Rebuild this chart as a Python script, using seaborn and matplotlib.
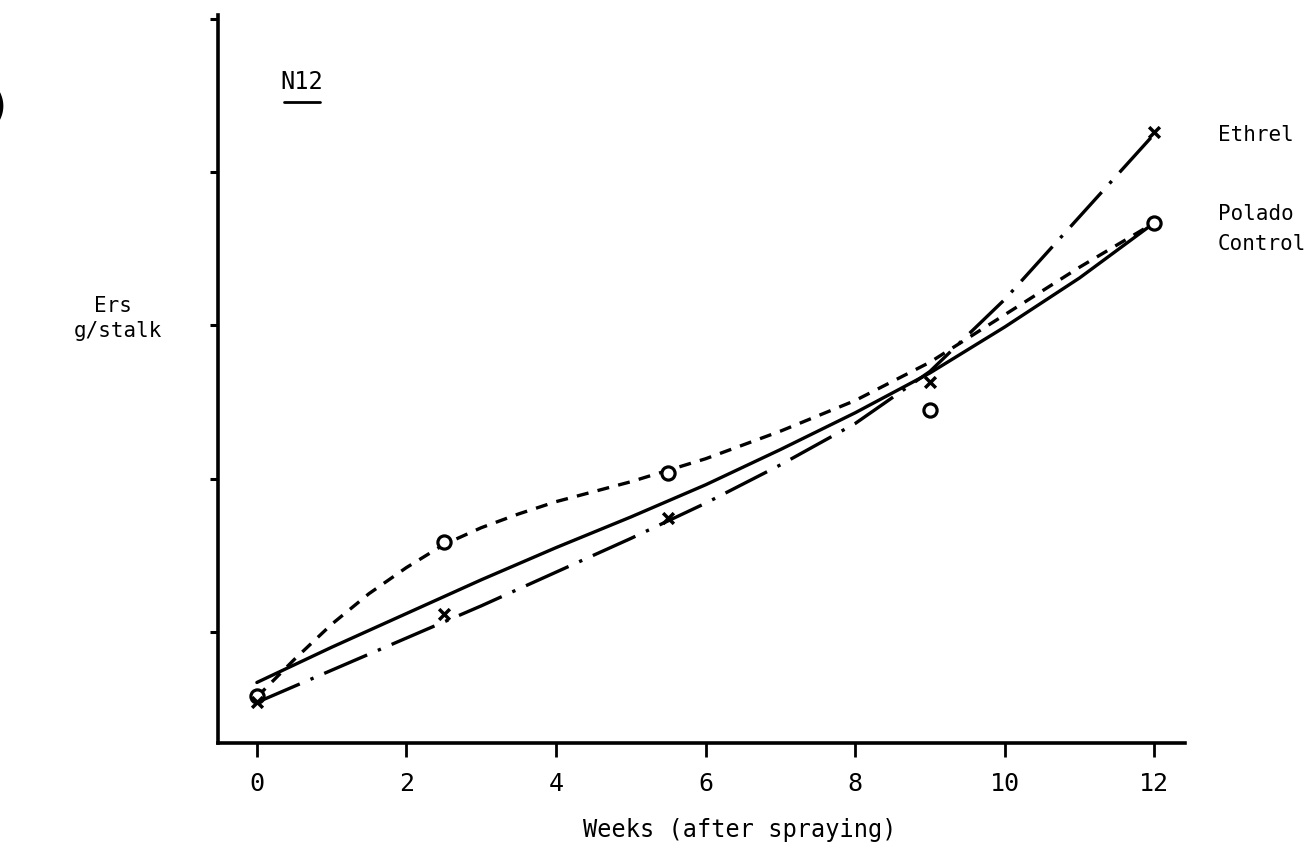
import matplotlib
matplotlib.use("Agg")
import matplotlib.pyplot as plt
import pandas as pd
import seaborn as sns
from matplotlib.lines import Line2D

# Fitted curves as drawn on the scan (weeks after spraying, value in y-tick units)
control_weeks = [0, 1, 2, 3, 4, 5, 6, 7, 8, 9, 10, 11, 12]
control_curve = [0.67, 0.90, 1.12, 1.34, 1.55, 1.75, 1.96, 2.19, 2.43, 2.69, 2.99, 3.31, 3.67]

polado_weeks = [0, 0.5, 1, 1.5, 2, 2.5, 3, 3.5, 4, 5, 6, 7, 8, 9, 10, 11, 12]
polado_curve = [0.575, 0.82, 1.05, 1.25, 1.42, 1.57, 1.68, 1.77, 1.85, 1.98, 2.13, 2.31, 2.51, 2.76, 3.07, 3.38, 3.67]

ethrel_weeks = [0, 1, 2, 3, 4, 5, 6, 7, 8, 9, 10, 11, 12]
ethrel_curve = [0.54, 0.75, 0.96, 1.17, 1.39, 1.61, 1.84, 2.09, 2.36, 2.70, 3.17, 3.71, 4.25]

# Observed points
sample_weeks = [0, 2.5, 5.5, 9, 12]
polado_obs = [0.58, 1.59, 2.04, 2.45, 3.67]
ethrel_obs = [0.54, 1.12, 1.745, 2.63, 4.26]

x_ticks = [0, 2, 4, 6, 8, 10, 12]
y_ticks = [1, 2, 3, 4, 5]

sns.set_style("ticks")
plt.rcParams["font.family"] = ["DejaVu Sans Mono"]
plt.rcParams["text.color"] = "black"

W, H = 1308, 861
fig = plt.figure(figsize=(W / 100, H / 100), dpi=100)
ax = fig.add_axes([218 / W, 1 - 743 / H, (1185 - 218) / W, (743 - 15) / H])

ink = "black"
lw = 2.4

df_c = pd.DataFrame({"week": control_weeks, "val": control_curve})
df_p = pd.DataFrame({"week": polado_weeks, "val": polado_curve})
df_e = pd.DataFrame({"week": ethrel_weeks, "val": ethrel_curve})

sns.lineplot(data=df_c, x="week", y="val", ax=ax, color=ink, lw=lw, sort=False)
sns.lineplot(data=df_p, x="week", y="val", ax=ax, color=ink, lw=lw, sort=False,
             linestyle=(0, (3.6, 2.8)))
sns.lineplot(data=df_e, x="week", y="val", ax=ax, color=ink, lw=lw, sort=False,
             linestyle=(0, (14, 3.5, 1, 3.5)))

obs = pd.DataFrame({"week": sample_weeks, "polado": polado_obs, "ethrel": ethrel_obs})
sns.scatterplot(data=obs, x="week", y="polado", ax=ax, marker="o", s=90,
                facecolor="white", edgecolor=ink, linewidth=2.3, zorder=5)
sns.scatterplot(data=obs, x="week", y="ethrel", ax=ax, marker="x", s=60,
                color=ink, linewidth=2.5, zorder=5)

ax.set_xlim(-0.52, 12.41)
ax.set_ylim(0.275, 5.026)
ax.set_xticks(x_ticks)
ax.set_xticklabels([str(t) for t in x_ticks])
ax.set_yticks(y_ticks)
ax.set_yticklabels([])
ax.tick_params(axis="x", direction="out", length=10, width=2, labelsize=18, pad=11,
               colors=ink)
ax.tick_params(axis="y", direction="out", length=6, width=2.2, colors=ink)
ax.set_xlabel("")
ax.set_ylabel("")
for side in ["left", "bottom"]:
    ax.spines[side].set_linewidth(2.6)
    ax.spines[side].set_color(ink)
sns.despine(ax=ax)


def px(x, y):
    return x / W, 1 - y / H


fig.text(*px(740, 830), "Weeks (after spraying)", fontsize=17, ha="center", va="center")
fig.text(*px(113, 306), "Ers", fontsize=15, ha="center", va="center")
fig.text(*px(118, 331), "g/stalk", fontsize=15, ha="center", va="center")

fig.text(*px(302, 82), "N12", fontsize=17, ha="center", va="center")
fig.add_artist(Line2D([284 / W, 320 / W], [1 - 102 / H, 1 - 102 / H], color=ink, lw=2))

fig.text(*px(1218, 135), "Ethrel", fontsize=15, ha="left", va="center")
fig.text(*px(1218, 214), "Polado", fontsize=15, ha="left", va="center")
fig.text(*px(1218, 244), "Control", fontsize=15, ha="left", va="center")

# edge of the neighbouring panel label cut off by the scan
fig.text(*px(-14, 108), ")", fontsize=30, ha="left", va="center", fontweight="bold")

fig.savefig("out.png", dpi=100, facecolor="white")
